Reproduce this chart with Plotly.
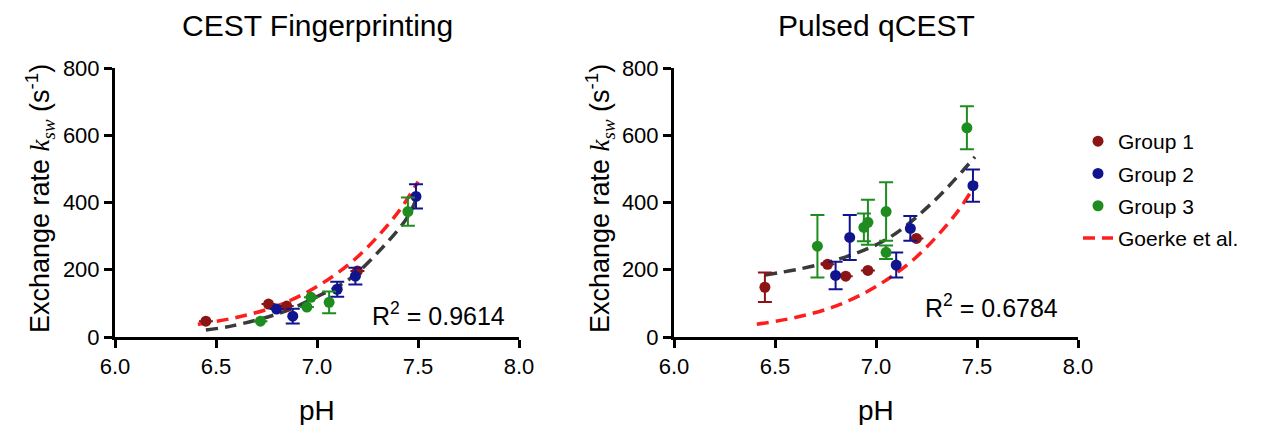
import plotly.graph_objects as go

# ---------------- data ----------------
# CEST Fingerprinting (left)
fp_g1_ph = [6.45, 6.76, 6.85, 7.20]
fp_g1_k = [47, 98, 92, 196]
fp_g1_err = [0, 0, 0, 0]

fp_g2_ph = [6.80, 6.88, 7.10, 7.19, 7.49]
fp_g2_k = [83, 62, 142, 181, 418]
fp_g2_err = [0, 22, 22, 25, 36]

fp_g3_ph = [6.72, 6.95, 6.97, 7.06, 7.45]
fp_g3_k = [47, 89, 118, 103, 373]
fp_g3_err = [0, 0, 0, 32, 42]

fp_fit_ph = [6.45, 6.58, 6.83, 7.00, 7.16, 7.33, 7.45, 7.49]
fp_fit_k = [21, 33, 74, 120, 172, 270, 358, 409]

# Pulsed qCEST (right)
pq_g1_ph = [6.45, 6.76, 6.85, 6.96, 7.20]
pq_g1_k = [148, 216, 181, 198, 293]
pq_g1_err = [44, 0, 0, 0, 0]

pq_g2_ph = [6.80, 6.87, 7.10, 7.17, 7.48]
pq_g2_k = [183, 296, 214, 323, 450]
pq_g2_err = [41, 67, 37, 37, 48]

pq_g3_ph = [6.71, 6.94, 6.96, 7.05, 7.05, 7.45]
pq_g3_k = [270, 326, 341, 373, 252, 622]
pq_g3_err = [93, 41, 67, 87, 20, 64]

pq_fit_ph = [6.45, 6.78, 7.05, 7.28, 7.49]
pq_fit_k = [184, 225, 290, 400, 536]

# Goerke et al. reference curve (same in both panels)
goerke_ph = [6.41, 6.60, 6.80, 7.00, 7.20, 7.40, 7.50]
goerke_k = [38, 58, 92, 150, 238, 370, 462]

titles = ["CEST Fingerprinting", "Pulsed qCEST"]
r2_labels = ["R<sup>2</sup> = 0.9614", "R<sup>2</sup> = 0.6784"]
group_names = ["Group 1", "Group 2", "Group 3"]
goerke_name = "Goerke et al."
x_label = "pH"
x_ticks = [6.0, 6.5, 7.0, 7.5, 8.0]
y_ticks = [0, 200, 400, 600, 800]

# ---------------- style / layout ----------------
colors = ["#8B1414", "#10148E", "#1E8C1E"]
red = "#FF1E1E"
dark = "#3A3A3A"
font = "Liberation Sans, Arial, sans-serif"
dash = "12px,7px"

OFF = 8           # page body margin
W, H = 1265 - 2 * OFF, 433 - 2 * OFF


def px(X):
    return (X - OFF) / W


def py(Y):
    return 1 - (Y - OFF) / H


fig = go.Figure()

panels = [
    dict(groups=[(fp_g1_ph, fp_g1_k, fp_g1_err), (fp_g2_ph, fp_g2_k, fp_g2_err),
                 (fp_g3_ph, fp_g3_k, fp_g3_err)],
         fit=(fp_fit_ph, fp_fit_k), xa="x", ya="y"),
    dict(groups=[(pq_g1_ph, pq_g1_k, pq_g1_err), (pq_g2_ph, pq_g2_k, pq_g2_err),
                 (pq_g3_ph, pq_g3_k, pq_g3_err)],
         fit=(pq_fit_ph, pq_fit_k), xa="x2", ya="y2"),
]

for pi, p in enumerate(panels):
    fig.add_trace(go.Scatter(
        x=goerke_ph, y=goerke_k, mode="lines", name=goerke_name,
        line=dict(color=red, width=3.5, dash=dash, shape="spline"),
        xaxis=p["xa"], yaxis=p["ya"], showlegend=(pi == 1), legendrank=4,
        legendgroup="g4"))
    fig.add_trace(go.Scatter(
        x=p["fit"][0], y=p["fit"][1], mode="lines", showlegend=False,
        line=dict(color=dark, width=3.5, dash=dash, shape="spline"),
        xaxis=p["xa"], yaxis=p["ya"]))
    for gi, (xs, ys, es) in enumerate(p["groups"]):
        fig.add_trace(go.Scatter(
            x=xs, y=ys, mode="markers", name=group_names[gi],
            marker=dict(color=colors[gi], size=11),
            error_y=dict(type="data", array=es, color=colors[gi], thickness=2, width=7),
            xaxis=p["xa"], yaxis=p["ya"], showlegend=(pi == 1), legendrank=gi + 1,
            legendgroup="g%d" % (gi + 1)))

axis_common = dict(
    showline=True, linecolor="black", linewidth=3, ticks="outside",
    ticklen=8, tickwidth=3, tickcolor="black", showgrid=False, zeroline=False,
    tickfont=dict(size=22, color="black", family=font), automargin=False,
)

ylabel = ("Exchange rate <span style='font-family:Liberation Serif;font-style:italic'>k</span>"
          "<sub><span style='font-family:Liberation Serif;font-style:italic'>sw</span></sub>"
          " (s<sup>-1</sup>)")

ydom = [py(337), py(68)]
fig.update_layout(
    width=W, height=H,
    margin=dict(l=0, r=0, t=0, b=0),
    paper_bgcolor="white", plot_bgcolor="white",
    font=dict(family=font, color="black"),
    xaxis=dict(domain=[px(115), px(519)], range=[6.0, 8.0], tickvals=x_ticks,
               tickformat=".1f", anchor="y", **axis_common),
    yaxis=dict(domain=ydom, range=[0, 800], tickvals=y_ticks,
               anchor="x", **axis_common),
    xaxis2=dict(domain=[px(674), px(1078)], range=[6.0, 8.0], tickvals=x_ticks,
                tickformat=".1f", anchor="y2", **axis_common),
    yaxis2=dict(domain=ydom, range=[0, 800], tickvals=y_ticks,
                anchor="x2", **axis_common),
    legend=dict(x=px(1078), y=py(121), xanchor="left", yanchor="top",
                font=dict(size=21, color="black"), itemwidth=30,
                tracegroupgap=2, bgcolor="rgba(0,0,0,0)"),
    showlegend=True,
)

# titles
for xref, t in zip(["x domain", "x2 domain"], titles):
    fig.add_annotation(text=t, x=0.5, xref=xref, y=py(26), yref="paper",
                       yanchor="middle", showarrow=False, font=dict(size=30))
# x labels
for xref in ["x domain", "x2 domain"]:
    fig.add_annotation(text=x_label, x=0.5, xref=xref, y=py(410), yref="paper",
                       yanchor="middle", showarrow=False, font=dict(size=28))
# y labels
for X in [40, 600]:
    fig.add_annotation(text=ylabel, x=px(X), xref="paper", y=py(199), yref="paper",
                       xanchor="center", yanchor="middle", textangle=-90,
                       showarrow=False, font=dict(size=27))
# R^2
fig.add_annotation(text=r2_labels[0], x=7.60, y=68, xref="x", yref="y",
                   showarrow=False, font=dict(size=25))
fig.add_annotation(text=r2_labels[1], x=7.57, y=92, xref="x2", yref="y2",
                   showarrow=False, font=dict(size=25))

fig.write_html("out.html")
